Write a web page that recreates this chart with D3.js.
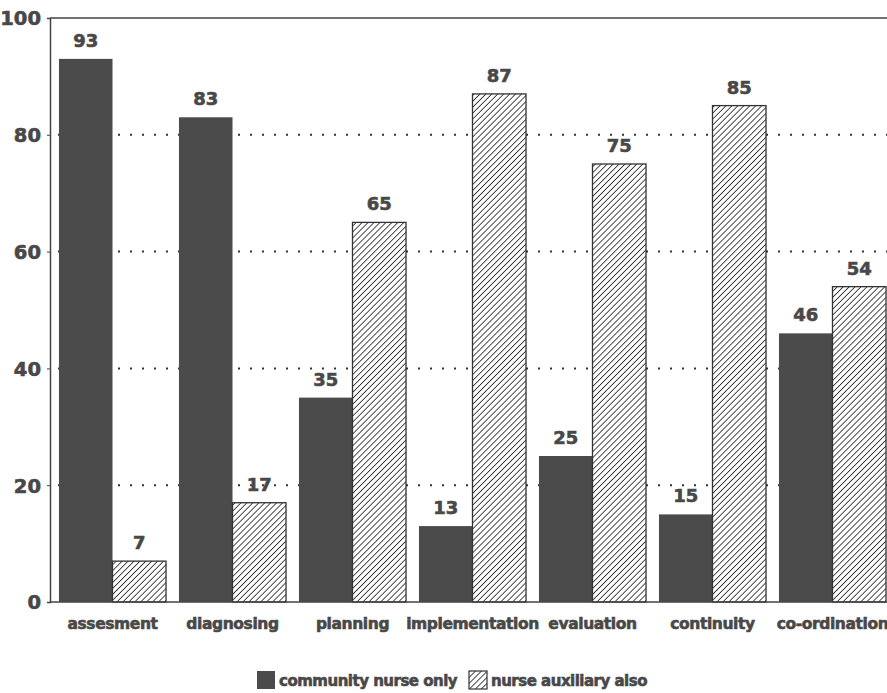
<!DOCTYPE html>
<html>
<head>
<meta charset="utf-8">
<script src="https://cdn.jsdelivr.net/npm/d3@7"></script>
<style>
  html, body { margin: 0; padding: 0; background: #fff; }
  svg { display: block; }
  text { font-family: "DejaVu Sans", "Liberation Sans", sans-serif; font-weight: bold; fill: #484848; stroke: #484848; stroke-width: 0.6px; }
</style>
</head>
<body>
<svg id="chart" width="887" height="693"></svg>
<script>
// Nursing process steps and share of tasks (%)
const categories = ["assesment", "diagnosing", "planning", "implementation", "evaluation", "continuity", "co-ordination"];
const seriesNames = ["community nurse only", "nurse auxiliary also"];
const communityNurseOnly = [93, 83, 35, 13, 25, 15, 46];
const nurseAuxiliaryAlso = [7, 17, 65, 87, 75, 85, 54];
const yTicks = [0, 20, 40, 60, 80, 100];

const svg = d3.select("#chart");
const W = 887, H = 693;
const plotLeft = 50, plotTop = 18, plotBottom = 602;
const dark = "#4b4b4b";

// hatch pattern for the second series
const defs = svg.append("defs");
const pat = defs.append("pattern")
  .attr("id", "hatch")
  .attr("patternUnits", "userSpaceOnUse")
  .attr("width", 4.2).attr("height", 4.2)
  .attr("patternTransform", "rotate(45)");
pat.append("rect").attr("width", 4.2).attr("height", 4.2).attr("fill", "#fff");
pat.append("line").attr("x1", 0).attr("y1", 0).attr("x2", 0).attr("y2", 4.2)
  .attr("stroke", "#2e2e2e").attr("stroke-width", 1.7);

const y = d3.scaleLinear().domain([0, 100]).range([plotBottom, plotTop]);
const x0 = d3.scaleBand().domain(categories).range([52.5, 892.5])
  .paddingInner(0.108).paddingOuter(0.054);
const x1 = d3.scaleBand().domain(seriesNames).range([0, x0.bandwidth()]);

const rows = categories.map((c, i) => ({
  cat: c,
  vals: [
    { s: seriesNames[0], v: communityNurseOnly[i] },
    { s: seriesNames[1], v: nurseAuxiliaryAlso[i] }
  ]
}));

// dotted grid lines
svg.append("g").selectAll("line")
  .data(yTicks.filter(t => t > 0 && t < 100))
  .join("line")
  .attr("x1", plotLeft).attr("x2", W)
  .attr("y1", d => y(d)).attr("y2", d => y(d))
  .attr("stroke", "#333").attr("stroke-width", 2)
  .attr("stroke-dasharray", "2 10").attr("stroke-dashoffset", -8);

// frame top line
svg.append("line").attr("x1", plotLeft).attr("x2", W)
  .attr("y1", y(100)).attr("y2", y(100))
  .attr("stroke", "#444").attr("stroke-width", 1.5);

// bars
const groups = svg.append("g").selectAll("g")
  .data(rows).join("g")
  .attr("transform", d => `translate(${x0(d.cat)},0)`);

groups.selectAll("rect")
  .data(d => d.vals).join("rect")
  .attr("x", d => x1(d.s))
  .attr("y", d => y(d.v))
  .attr("width", x1.bandwidth())
  .attr("height", d => y(0) - y(d.v))
  .attr("fill", d => d.s === seriesNames[0] ? dark : "url(#hatch)")
  .attr("stroke", d => d.s === seriesNames[0] ? "none" : "#333")
  .attr("stroke-width", 1.3);

groups.selectAll("text")
  .data(d => d.vals).join("text")
  .attr("x", d => x1(d.s) + x1.bandwidth() / 2)
  .attr("y", d => y(d.v) - 12)
  .attr("text-anchor", "middle")
  .attr("font-size", 18)
  .text(d => d.v);

// y axis
const yAxis = d3.axisLeft(y).tickValues(yTicks).tickSize(3).tickPadding(6);
const gy = svg.append("g").attr("transform", `translate(${plotLeft},0)`).call(yAxis);
gy.select(".domain").attr("stroke", "#444").attr("stroke-width", 1.5);
gy.selectAll(".tick line").attr("stroke", "#444");
gy.selectAll(".tick text").attr("font-size", 19.5).attr("fill", "#484848")
  .attr("font-family", "DejaVu Sans").attr("font-weight", "bold")
  .attr("dy", "0.35em");

// x axis
const xAxis = d3.axisBottom(x0).tickSize(0).tickPadding(16);
const gx = svg.append("g").attr("transform", `translate(0,${plotBottom})`).call(xAxis);
gx.select(".domain").attr("d", `M${plotLeft},0H${W}`).attr("stroke", "#444").attr("stroke-width", 1.5);
gx.selectAll(".tick text").attr("font-size", 15.5).attr("fill", "#484848")
  .attr("font-family", "DejaVu Sans").attr("font-weight", "bold")
  .attr("letter-spacing", "-0.4px");

// legend
const legend = svg.append("g").attr("transform", "translate(257,671)");
const items = [
  { name: seriesNames[0], fill: dark, x: 0 },
  { name: seriesNames[1], fill: "url(#hatch)", x: 212 }
];
const li = legend.selectAll("g").data(items).join("g")
  .attr("transform", d => `translate(${d.x},0)`);
li.append("rect").attr("width", 18).attr("height", 18)
  .attr("fill", d => d.fill)
  .attr("stroke", d => d.fill === dark ? "none" : "#333").attr("stroke-width", 1.2);
li.append("text").attr("x", 22).attr("y", 15)
  .attr("font-size", 15).attr("letter-spacing", "-0.5px")
  .text(d => d.name);
</script>
</body>
</html>
